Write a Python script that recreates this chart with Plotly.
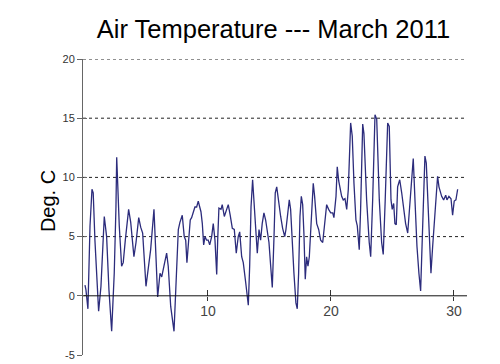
import plotly.graph_objects as go

# Day of month (fractional) and air temperature (deg C)
days = [0.00, 0.08, 0.24, 0.41, 0.57, 0.67, 0.81, 1.11, 1.30, 1.57, 1.76, 1.95, 2.17, 2.38, 2.52, 2.58, 2.66,
        2.79, 2.98, 3.11, 3.28, 3.55, 3.72, 3.98, 4.15, 4.37, 4.53, 4.69, 4.96, 5.15, 5.34, 5.61, 5.75, 5.91,
        6.10, 6.24, 6.42, 6.64, 6.77, 6.97, 7.24, 7.46, 7.59, 7.72, 7.80, 7.91, 8.07, 8.19, 8.29, 8.40, 8.56,
        8.67, 8.80, 8.94, 9.08, 9.21, 9.33, 9.43, 9.54, 9.65, 9.76, 9.89, 10.02, 10.14, 10.30, 10.43, 10.57,
        10.71, 10.79, 10.89, 11.06, 11.16, 11.33, 11.52, 11.65, 11.81, 11.98, 12.14, 12.30, 12.46, 12.58,
        12.74, 12.87, 13.07, 13.28, 13.39, 13.50, 13.63, 13.76, 13.90, 14.01, 14.15, 14.28, 14.41, 14.55,
        14.69, 14.82, 14.96, 15.10, 15.23, 15.37, 15.47, 15.59, 15.75, 15.91, 16.07, 16.24, 16.34, 16.50,
        16.61, 16.72, 16.83, 16.99, 17.15, 17.26, 17.37, 17.48, 17.59, 17.70, 17.80, 17.91, 18.02, 18.13,
        18.24, 18.35, 18.46, 18.56, 18.67, 18.84, 19.00, 19.16, 19.33, 19.49, 19.65, 19.81, 19.98, 20.14,
        20.24, 20.41, 20.51, 20.63, 20.73, 20.87, 21.00, 21.14, 21.28, 21.41, 21.60, 21.73, 21.87, 22.03,
        22.14, 22.30, 22.41, 22.58, 22.68, 22.90, 23.11, 23.23, 23.39, 23.58, 23.72, 23.93, 24.12, 24.25,
        24.41, 24.61, 24.74, 24.88, 24.98, 25.10, 25.20, 25.31, 25.42, 25.59, 25.75, 25.91, 26.07, 26.24,
        26.40, 26.56, 26.69, 26.83, 26.99, 27.15, 27.29, 27.42, 27.54, 27.64, 27.75, 27.91, 28.05, 28.13,
        28.27, 28.40, 28.51, 28.67, 28.78, 28.89, 29.00, 29.16, 29.33, 29.43, 29.59, 29.76, 29.89, 30.02,
        30.16, 30.30]

temps = [0.9, 0.5, -1.1, 5.9, 9.0, 8.7, 4.7, -1.3, 0.8, 6.7, 5.0, 0.5, -3.0, 1.9, 7.5, 11.7, 9.5,
         5.9, 2.5, 2.8, 4.7, 7.3, 6.2, 3.3, 4.5, 6.6, 5.8, 5.3, 0.8, 2.2, 3.9, 7.3, 3.0, -0.1,
         1.9, 1.6, 2.5, 3.6, 2.5, -0.9, -3.0, 2.8, 5.6, 6.2, 6.4, 6.8, 5.0, 4.7, 2.8, 4.5, 6.4,
         6.6, 7.0, 7.5, 7.5, 8.0, 7.5, 7.1, 6.1, 4.3, 5.0, 4.7, 4.7, 4.3, 5.0, 6.1, 4.7,
         1.8, 4.7, 7.4, 7.3, 7.7, 6.7, 7.3, 7.7, 6.8, 5.7, 5.6, 3.6, 5.0, 5.4,
         3.3, 2.8, 1.1, -0.8, 2.5, 7.5, 9.8, 7.8, 4.7, 3.6, 5.6, 4.7, 6.1, 7.0,
         6.4, 5.6, 4.5, 2.5, 0.7, 5.0, 8.7, 9.2, 7.8, 6.7, 5.7, 5.0, 5.6, 7.3,
         8.1, 7.3, 4.7, 1.9, -0.6, -1.1, 1.9, 6.7, 8.4, 7.7, 5.3, 1.4, 3.3, 2.5,
         3.3, 5.3, 8.1, 9.5, 8.4, 6.1, 5.6, 4.7, 4.5, 5.9, 7.7, 7.3, 7.0, 7.0,
         6.6, 8.4, 10.9, 9.7, 9.2, 8.4, 8.1, 8.2, 7.3, 9.0, 14.6, 13.5, 9.5, 6.4,
         5.9, 3.9, 7.3, 14.5, 13.7, 8.1, 4.5, 3.3, 8.1, 15.3, 14.9, 8.1, 4.5, 3.5,
         8.1, 14.6, 14.3, 8.1, 7.3, 7.8, 6.1, 6.0, 9.2, 9.8, 8.7, 7.3, 6.1, 5.3,
         7.8, 10.4, 11.6, 8.1, 4.2, 1.9, 0.4, 4.7, 9.2, 11.8, 11.2, 6.7, 3.6, 1.9,
         4.2, 5.9, 8.1, 10.1, 9.2, 8.8, 8.4, 8.1, 8.5, 8.1, 8.4, 8.2, 6.8, 8.0,
         8.1, 9.0]

x_ticks = [10, 20, 30]
y_ticks = [-5, 0, 5, 10, 15, 20]
y_tick_text = ["-5", "0", "5", "10", "15", "20"]
y_grid = [5, 10, 15, 20]

FONT = "Liberation Sans, Arial, sans-serif"
x_range = [-0.16, 31.06]
y_range = [-5, 20]

fig = go.Figure()
fig.add_trace(go.Scatter(x=days, y=temps, mode="lines",
                         line=dict(color="#2c2c7c", width=1.3),
                         hoverinfo="skip", showlegend=False))
# empty trace to activate overlay axes (used for the other halves of crossing ticks)
fig.add_trace(go.Scatter(x=[], y=[], xaxis="x2", yaxis="y2", showlegend=False))

# dashed horizontal grid lines and solid zero line
shapes = [dict(type="line", xref="paper", yref="y", x0=0, x1=1, y0=g, y1=g,
               line=dict(color="#222", width=1, dash="3px,3px"), layer="below")
          for g in y_grid]
shapes.append(dict(type="line", xref="paper", yref="y", x0=0, x1=1, y0=0, y1=0,
                   line=dict(color="#111", width=1), layer="above"))

fig.update_layout(
    template="none",
    width=500, height=364,
    margin=dict(l=83, r=33, t=59, b=9, pad=0),
    paper_bgcolor="white", plot_bgcolor="white",
    font=dict(family=FONT, color="#222"),
    title=dict(text="Air Temperature --- March 2011", x=0.496, xref="paper",
               y=0.92, yref="container", yanchor="middle", xanchor="center",
               font=dict(family=FONT, size=25.5, color="black")),
    xaxis=dict(range=x_range, anchor="free", position=0.2, showline=False,
               automargin=False, zeroline=False, showgrid=False, tickvals=x_ticks,
               ticks="outside", ticklen=4, tickcolor="#333", tickwidth=1,
               ticklabelstandoff=-2,
               tickfont=dict(size=14, color="#444")),
    xaxis2=dict(range=x_range, overlaying="x", anchor="free", position=0.2,
                showline=False, zeroline=False, showgrid=False, tickvals=x_ticks,
                automargin=False,
                ticks="inside", ticklen=6, tickcolor="#333", showticklabels=False),
    yaxis=dict(range=y_range, showline=True, linecolor="#666", linewidth=1,
               tickvals=y_ticks, ticktext=y_tick_text, ticks="outside", ticklen=5,
               tickcolor="#666", automargin=False,
               showgrid=False, zeroline=False,
               tickfont=dict(size=11, color="#333")),
    yaxis2=dict(range=y_range, overlaying="y", anchor="free", position=0, side="left",
                showline=False, zeroline=False, tickvals=y_ticks, ticks="inside",
                ticklen=3, tickcolor="#666", showticklabels=False, automargin=False,
                showgrid=False),
    shapes=shapes,
    annotations=[dict(text="Deg. C", xref="paper", yref="paper", x=-0.125, y=0.52,
                      textangle=-90, showarrow=False,
                      font=dict(family=FONT, size=20, color="black"))],
)

fig.write_html("out.html", config={"displayModeBar": False},
               post_script="document.body.style.margin='0';")
